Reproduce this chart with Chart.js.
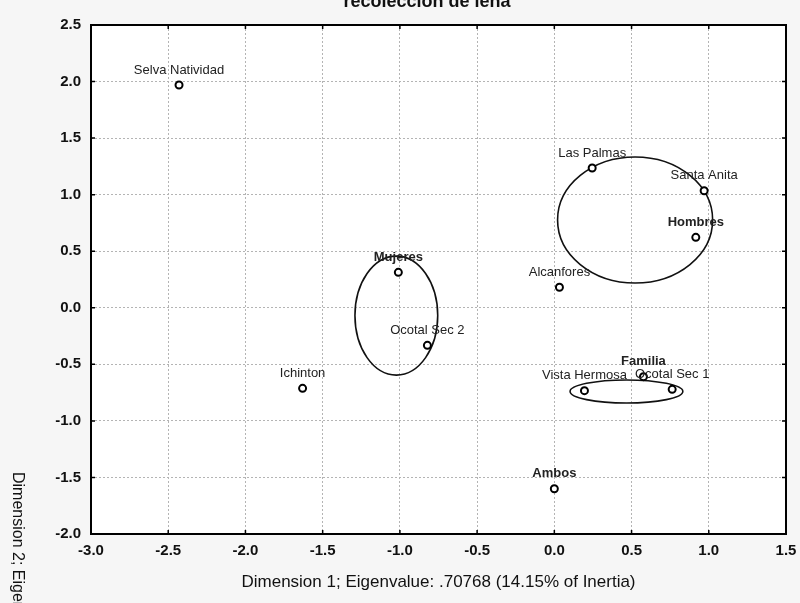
<!DOCTYPE html>
<html>
<head>
<meta charset="utf-8">
<script src="https://cdn.jsdelivr.net/npm/chart.js@4"></script>
<style>
html, body { margin: 0; padding: 0; background: #f6f6f6; }
#wrap { width: 800px; height: 603px; }
</style>
</head>
<body>
<div id="wrap"><canvas id="caChart" width="800" height="603"></canvas></div>
<script>
// site / group coordinates
const siteNames = ["Selva Natividad", "Las Palmas", "Santa Anita", "Hombres", "Mujeres", "Alcanfores",
    "Ocotal Sec 2", "Ichinton", "Familia", "Vista Hermosa", "Ocotal Sec 1", "Ambos"];
const dim1 = [-2.43, 0.245, 0.97, 0.916, -1.01, 0.033, -0.822, -1.63, 0.577, 0.195, 0.763, 0.0];
const dim2 = [1.97, 1.236, 1.035, 0.623, 0.313, 0.181, -0.332, -0.712, -0.609, -0.733, -0.721, -1.60];
const boldNames = ["Hombres", "Mujeres", "Familia", "Ambos"];

// grouping ellipses (centre and half-axes in data units)
const ellCx = [0.523, -1.023, 0.467];
const ellCy = [0.776, -0.069, -0.740];
const ellRx = [0.502, 0.268, 0.365];
const ellRy = [0.557, 0.526, 0.102];

const xRange = [-3.0, 1.5];
const yRange = [-2.0, 2.5];
const tickStep = 0.5;

const chartTitle = "recolección de leña";
const xTitle = "Dimension 1; Eigenvalue: .70768 (14.15% of Inertia)";
const yTitle = "Dimension 2; Eigenvalue";

const FONT = "'Liberation Sans', Arial, sans-serif";

const points = dim1.map(function(x, i) { return { x: x, y: dim2[i] }; });

const decor = {
    id: "decor",
    beforeDraw: function(chart) {
        const ctx = chart.ctx, a = chart.chartArea;
        ctx.save();
        ctx.fillStyle = "#f6f6f6";
        ctx.fillRect(0, 0, chart.width, chart.height);
        ctx.fillStyle = "#ffffff";
        ctx.fillRect(a.left, a.top, a.right - a.left, a.bottom - a.top);
        ctx.restore();
    },
    beforeDatasetsDraw: function(chart) {
        const ctx = chart.ctx, xs = chart.scales.x, ys = chart.scales.y;
        ctx.save();
        ctx.strokeStyle = "#111";
        ctx.lineWidth = 1.6;
        for (let i = 0; i < ellCx.length; i++) {
            const cx = xs.getPixelForValue(ellCx[i]);
            const cy = ys.getPixelForValue(ellCy[i]);
            const rx = Math.abs(xs.getPixelForValue(ellCx[i] + ellRx[i]) - cx);
            const ry = Math.abs(ys.getPixelForValue(ellCy[i] + ellRy[i]) - cy);
            ctx.beginPath();
            ctx.ellipse(cx, cy, rx, ry, 0, 0, Math.PI * 2);
            ctx.stroke();
        }
        ctx.restore();
    },
    afterDatasetsDraw: function(chart) {
        const ctx = chart.ctx, a = chart.chartArea;
        const meta = chart.getDatasetMeta(0);
        ctx.save();
        ctx.textAlign = "center";
        ctx.textBaseline = "middle";
        meta.data.forEach(function(pt, i) {
            const name = siteNames[i];
            ctx.font = (boldNames.indexOf(name) >= 0 ? "bold " : "") + "13px " + FONT;
            ctx.fillStyle = "#222";
            ctx.fillText(name, pt.x, pt.y - 15);
        });

        // frame and inner tick marks
        ctx.strokeStyle = "#000";
        ctx.lineWidth = 2;
        ctx.strokeRect(a.left, a.top, a.right - a.left, a.bottom - a.top);
        ctx.lineWidth = 1.5;
        chart.scales.x.ticks.forEach(function(t) {
            const px = chart.scales.x.getPixelForValue(t.value);
            ctx.beginPath();
            ctx.moveTo(px, a.top); ctx.lineTo(px, a.top + 4);
            ctx.moveTo(px, a.bottom); ctx.lineTo(px, a.bottom - 4);
            ctx.stroke();
        });
        chart.scales.y.ticks.forEach(function(t) {
            const py = chart.scales.y.getPixelForValue(t.value);
            ctx.beginPath();
            ctx.moveTo(a.left, py); ctx.lineTo(a.left + 4, py);
            ctx.moveTo(a.right, py); ctx.lineTo(a.right - 4, py);
            ctx.stroke();
        });

        // titles
        ctx.fillStyle = "#111";
        ctx.font = "bold 18px " + FONT;
        ctx.textBaseline = "alphabetic";
        ctx.fillText(chartTitle, 427, 7);
        ctx.font = "17px " + FONT;
        ctx.textBaseline = "middle";
        ctx.fillText(xTitle, (a.left + a.right) / 2, 582);
        ctx.translate(17, 472);
        ctx.rotate(Math.PI / 2);
        ctx.textAlign = "left";
        ctx.font = "16px " + FONT;
        ctx.fillText(yTitle, 0, 0);
        ctx.restore();
    }
};

document.addEventListener("DOMContentLoaded", function() {
    const ctx = document.getElementById("caChart").getContext("2d");
    new Chart(ctx, {
        type: "scatter",
        data: {
            datasets: [{
                label: "Sitios",
                data: points,
                pointRadius: 3.5,
                pointBorderWidth: 2,
                pointBorderColor: "#000",
                pointBackgroundColor: "#fff"
            }]
        },
        options: {
            responsive: false,
            animation: false,
            layout: { padding: { top: 25, right: 14, left: 0, bottom: 0 } },
            plugins: { legend: { display: false }, tooltip: { enabled: false } },
            scales: {
                x: {
                    type: "linear",
                    min: xRange[0], max: xRange[1],
                    afterFit: function(s) {
                        s.height = 69;
                        s.paddingLeft = 0;
                        s.paddingRight = 0;
                    },
                    ticks: {
                        stepSize: tickStep,
                        padding: 8,
                        color: "#111",
                        font: { family: FONT, size: 15, weight: "bold" },
                        callback: function(v) { return v.toFixed(1); }
                    },
                    grid: { color: "#b4b4b4", drawTicks: false, lineWidth: 1 },
                    border: { display: false, dash: [2, 2] }
                },
                y: {
                    type: "linear",
                    min: yRange[0], max: yRange[1],
                    afterFit: function(s) {
                        s.width = 91;
                        s.paddingTop = 0;
                        s.paddingBottom = 0;
                    },
                    ticks: {
                        stepSize: tickStep,
                        padding: 10,
                        color: "#111",
                        font: { family: FONT, size: 15, weight: "bold" },
                        callback: function(v) { return v.toFixed(1); }
                    },
                    grid: { color: "#b4b4b4", drawTicks: false, lineWidth: 1 },
                    border: { display: false, dash: [2, 2] }
                }
            }
        },
        plugins: [decor]
    });
});
</script>
</body>
</html>
